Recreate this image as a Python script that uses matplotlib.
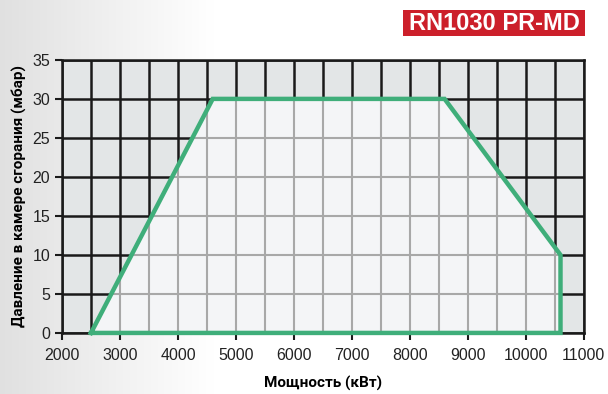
import matplotlib.pyplot as plt
import numpy as np
from matplotlib.patches import Polygon, Rectangle

# working field of the burner
power_kw = [2500, 4600, 8600, 10600, 10600, 2500]
pressure_mbar = [0, 30, 30, 10, 0, 0]

x_ticks = [2000, 3000, 4000, 5000, 6000, 7000, 8000, 9000, 10000, 11000]
y_ticks = [0, 5, 10, 15, 20, 25, 30, 35]

fig = plt.figure(figsize=(6.08, 3.94), dpi=100)

# soft grey band on the left of the page
bg = fig.add_axes([0, 0, 1, 1], zorder=-10)
grad = np.linspace(0, 1, 300)
shade = np.clip(1 - grad / 0.35, 0, 1) * 0.12
img = np.ones((10, 300, 3)) * (1 - shade)[None, :, None]
bg.imshow(img, aspect='auto', extent=[0, 1, 0, 1])
bg.axis('off')

ax = fig.add_axes([0.102, 0.155, 0.858, 0.693])
ax.set_xlim(2000, 11000)
ax.set_ylim(0, 35)
ax.set_facecolor('#e3e6e7')

xs = np.arange(2000, 11001, 500)
ys = np.arange(0, 36, 5)
for x in xs:
    ax.axvline(x, color='#1a1a1a', lw=1.8, zorder=1)
for y in ys:
    ax.axhline(y, color='#1a1a1a', lw=1.8, zorder=1)

field = Polygon(list(zip(power_kw, pressure_mbar)), closed=True,
                facecolor='#f4f5f7', edgecolor='none', zorder=2)
ax.add_patch(field)

for x in xs:
    ln = ax.axvline(x, color='#a8a8a8', lw=1.5, zorder=3)
    ln.set_clip_path(field)
for y in ys:
    ln = ax.axhline(y, color='#a8a8a8', lw=1.5, zorder=3)
    ln.set_clip_path(field)

ax.plot(power_kw, pressure_mbar, color='#3fae7a', lw=3.2,
        solid_joinstyle='miter', zorder=5, clip_on=False)

for s in ax.spines.values():
    s.set_color('#1a1a1a')
    s.set_linewidth(1.8)
    s.set_zorder(4)

ax.set_xticks(x_ticks)
ax.set_yticks(y_ticks)
ax.tick_params(direction='out', length=5, width=1.5, colors='#1a1a1a',
               labelsize=11.5, labelcolor='#222222')
ax.tick_params(axis='x', pad=6)
for lab in ax.get_xticklabels() + ax.get_yticklabels():
    lab.set_family('Liberation Sans')

ax.set_xlabel('Мощность (кВт)', fontsize=11, fontweight='bold',
              family='Roboto', labelpad=9)
ax.set_ylabel('Давление в камере сгорания (мбар)', fontsize=11,
              fontweight='bold', family='Roboto', labelpad=4)

fig.add_artist(Rectangle((403 / 608, 1 - 36 / 394), 182 / 608, 26 / 394,
                         transform=fig.transFigure, facecolor='#cc1f2a',
                         edgecolor='none'))
fig.text(494 / 608, 1 - 23.5 / 394, 'RN1030 PR-MD', color='white', fontsize=17,
         fontweight='bold', family='Liberation Sans', ha='center', va='center')

plt.savefig('out.png', dpi=100)
